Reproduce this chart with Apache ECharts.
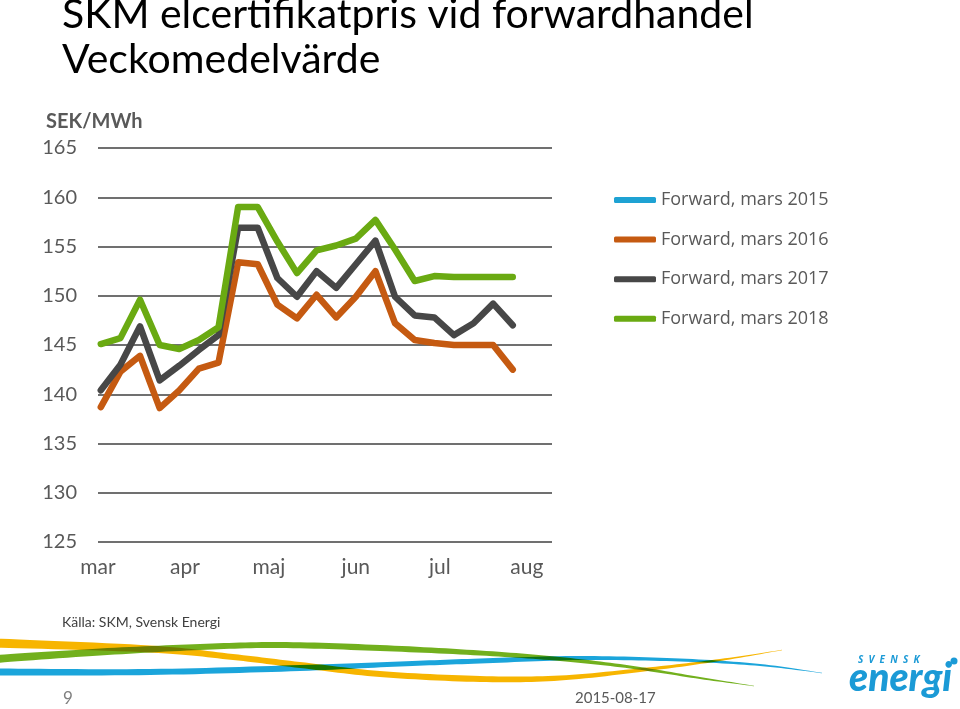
<!DOCTYPE html>
<html><head><meta charset="utf-8">
<script src="https://cdn.jsdelivr.net/npm/echarts@6/dist/echarts.min.js"></script>
<style>html,body{margin:0;padding:0;background:#fff}#c{width:960px;height:709px}</style>
</head><body><div id="c"></div>
<script>
// ---- data ----
const weekDates = ['2015-03-02','2015-03-09','2015-03-16','2015-03-23','2015-03-30','2015-04-06',
  '2015-04-13','2015-04-20','2015-04-27','2015-05-04','2015-05-11','2015-05-18','2015-05-25',
  '2015-06-01','2015-06-08','2015-06-15','2015-06-22','2015-06-29','2015-07-06','2015-07-13',
  '2015-07-20','2015-07-27'];
const monthStarts = ['2015-03-01','2015-04-01','2015-05-01','2015-06-01','2015-07-01','2015-08-01'];
const monthLabels = ['mar','apr','maj','jun','jul','aug'];
const axisStart = '2015-03-01';
const axisEnd = '2015-08-10';
const yMin = 125, yMax = 165, yStep = 5;
const seriesNames = ['Forward, mars 2015','Forward, mars 2016','Forward, mars 2017','Forward, mars 2018'];
const fwd2015 = [];
const fwd2016 = [138.7,142.3,143.9,138.6,140.4,142.6,143.2,153.4,153.2,149.1,147.7,150.1,147.8,149.9,152.5,147.2,145.5,145.2,145.0,145.0,145.0,142.5];
const fwd2017 = [140.4,143.0,146.9,141.4,142.9,144.5,146.0,156.9,156.9,151.8,149.9,152.5,150.8,153.2,155.6,149.9,148.0,147.8,146.0,147.2,149.2,147.0];
const fwd2018 = [145.1,145.7,149.6,145.0,144.6,145.5,146.8,159.0,159.0,155.5,152.3,154.6,155.1,155.8,157.7,154.7,151.5,152.0,151.9,151.9,151.9,151.9];

// ---- helpers: dates -> day offset from axisStart ----
function dayOf(s){ const p = s.split('-').map(Number); return Math.round((Date.UTC(p[0], p[1]-1, p[2]) - Date.UTC(2015,2,1)) / 86400000); }
const monthDays = monthStarts.map(dayOf);
function pairs(vals){ return vals.map((v,i)=>[dayOf(weekDates[i]), v]); }
const colors = ['#1ea2d3','#c55a11','#474747','#6aaa12'];

function catmull(pts, n){
  const out=[];
  for(let i=0;i<pts.length-1;i++){
    const p0=pts[Math.max(i-1,0)], p1=pts[i], p2=pts[i+1], p3=pts[Math.min(i+2,pts.length-1)];
    for(let k=0;k<n;k++){
      const t=k/n,t2=t*t,t3=t2*t;
      out.push([0,1,2].map(j=>0.5*((2*p1[j])+(-p0[j]+p2[j])*t+(2*p0[j]-5*p1[j]+4*p2[j]-p3[j])*t2+(-p0[j]+3*p1[j]-3*p2[j]+p3[j])*t3)));
    }
  }
  out.push(pts[pts.length-1]);
  return out;
}
function ribbon(pts){
  const s = catmull(pts, 14);
  const up = s.map(p=>[p[0], p[1]-p[2]/2]);
  const lo = s.map(p=>[p[0], p[1]+p[2]/2]).reverse();
  return up.concat(lo);
}
const yellowPts = [[-5,643,9],[150,649,7],[233,657,6],[300,665,6],[380,674,6],[480,679,6],[560,678,5],[650,669,3.5],[720,660,2],[782,650,0.4]];
const greenPts  = [[-5,659,8],[100,652,7],[200,647,6],[280,645,6],[380,648,6],[480,653,5],[560,659,4],[630,667,3],[700,678,2],[754,686,0.4]];
const bluePts   = [[-5,672,7],[150,672,6],[300,668,6],[400,664,5],[480,661,5],[580,658,4],[680,660,3],[760,665,2],[822,673,0.4]];

const FONT = 'Lato, "Open Sans", sans-serif';
const chart = echarts.init(document.getElementById('c'));
chart.setOption({
  animation:false,
  backgroundColor:'#ffffff',
  color: colors,
  grid:{left:98, right:408, top:148, bottom:167, containLabel:false},
  legend:{
    orient:'vertical', left:609, top:185, itemWidth:42, itemHeight:6, itemGap:19.6,
    icon:'roundRect',
    textStyle:{fontFamily:'"Open Sans", sans-serif', fontSize:18, color:'#595959', lineHeight:20},
    data: seriesNames
  },
  xAxis:{
    type:'value', min: dayOf(axisStart), max: dayOf(axisEnd),
    axisLine:{show:false}, axisTick:{show:false}, splitLine:{show:false},
    axisLabel:{
      customValues: monthDays, margin:15, fontFamily:FONT, fontSize:21, color:'#595959',
      formatter: function(v){ const i = monthDays.indexOf(Math.round(v)); return i>=0?monthLabels[i]:''; }
    }
  },
  yAxis:{
    type:'value', min:yMin, max:yMax, interval:yStep,
    axisLine:{show:false}, axisTick:{show:false},
    splitLine:{lineStyle:{color:'#707070', width:2}},
    axisLabel:{margin:21, fontFamily:FONT, fontSize:20, color:'#595959'}
  },
  series:[fwd2015,fwd2016,fwd2017,fwd2018].map((d,i)=>({
    name: seriesNames[i], type:'line', data: pairs(d), showSymbol:false, symbol:'none',
    lineStyle:{width:6.5, cap:'round', join:'round', color: colors[i]},
    itemStyle:{color: colors[i]}
  })),
  graphic:[
    {type:'text', left:62, top:-6, style:{text:'SKM elcertifikatpris vid forwardhandel', font:'41px Lato, sans-serif', fill:'#000'}},
    {type:'text', left:62, top:39, style:{text:'Veckomedelvärde', font:'41px Lato, sans-serif', fill:'#000'}},
    {type:'text', left:46, top:112, style:{text:'SEK/MWh', font:'bold 20px Lato, sans-serif', fill:'#595959'}},
    {type:'text', left:62, top:615, style:{text:'Källa: SKM, Svensk Energi', font:'14px Lato, sans-serif', fill:'#404040'}},
    {type:'polygon', silent:true, shape:{points: ribbon(yellowPts)}, style:{fill:'#f7b500', blend:'multiply'}},
    {type:'polygon', silent:true, shape:{points: ribbon(greenPts)}, style:{fill:'#72b01d', blend:'multiply'}},
    {type:'polygon', silent:true, shape:{points: ribbon(bluePts)}, style:{fill:'#1ba5db', blend:'multiply'}},
    {type:'text', left:63, top:690, style:{text:'9', font:'17px Lato, sans-serif', fill:'#7f7f7f'}},
    {type:'text', left:575, top:691, style:{text:'2015-08-17', font:'15px Lato, sans-serif', fill:'#595959'}},
    {type:'text', left:858, top:655, style:{text:'S  V  E  N  S  K', font:'bold italic 10px "Open Sans", sans-serif', fill:'#1b9ad6'}},
    {type:'circle', shape:{cx:954, cy:661, r:3.5}, style:{fill:'#1b9ad6'}},
    {type:'text', left:849, top:659, style:{text:'energi', font:'italic 900 39px Lato, sans-serif', fill:'#1b9ad6'}}
  ]
});
</script></body></html>
